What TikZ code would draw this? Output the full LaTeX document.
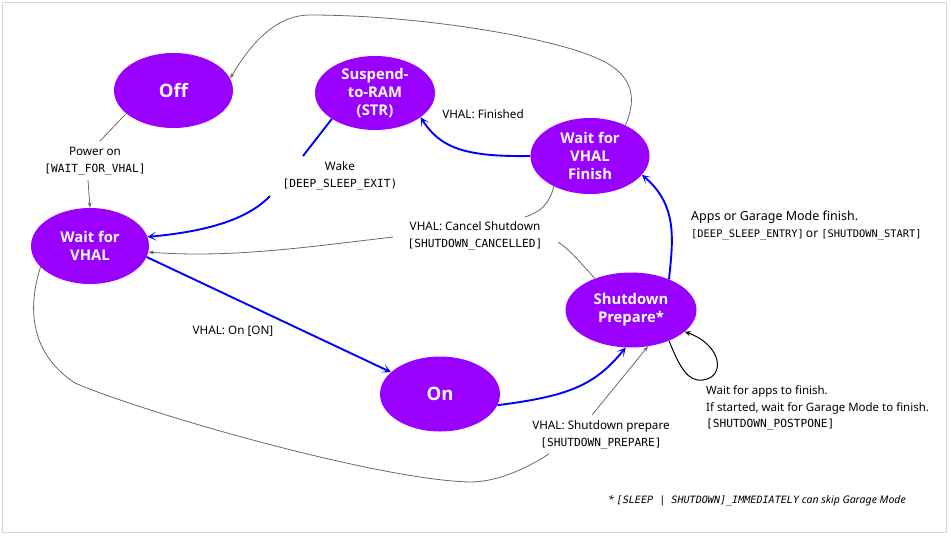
\documentclass[tikz,border=0pt]{standalone}
\usepackage{fontspec}
\setmainfont{Noto Sans}
\setmonofont{DejaVu Sans Mono}
\newfontfamily\statefont{Open Sans}[UprightFont=* Bold]
\usetikzlibrary{shapes.geometric,arrows.meta,calc}
\definecolor{vio}{RGB}{153,0,255}
\definecolor{blu}{RGB}{0,0,255}
\definecolor{gry}{RGB}{105,105,105}
\definecolor{frame}{RGB}{215,215,215}
\newcommand{\mc}[1]{{\ttfamily\fontsize{11.2}{17}\selectfont #1}}
\newcommand{\ms}[1]{{\ttfamily\fontsize{10.4}{17}\selectfont #1}}
\begin{document}
\begin{tikzpicture}[x=1pt,y=-1pt,
  state/.style={ellipse,fill=vio,text=white,font=\statefont\fontsize{14.8}{18}\selectfont,align=center,inner sep=0pt},
  bigstate/.style={state,font=\statefont\fontsize{18.5}{22}\selectfont},
  lbl/.style={font=\fontsize{11.7}{17}\selectfont,align=center,inner sep=1pt},
  lblL/.style={font=\fontsize{12.5}{17}\selectfont,align=left,inner sep=0pt,anchor=west},
  bedge/.style={draw=blu,line width=1.9pt,-{Stealth[length=9pt,width=9pt,inset=5.5pt]}},
  bline/.style={draw=blu,line width=1.9pt},
  gedge/.style={draw=gry,line width=0.8pt,-{Stealth[length=5.5pt,width=4pt]}},
  gline/.style={draw=gry,line width=0.8pt},
  kedge/.style={draw=black,line width=1pt,-{Stealth[length=6pt,width=5pt,inset=2pt]}}
]
\useasboundingbox (0,0) rectangle (951,538);
\draw[frame,line width=0.8pt] (2.5,2.5) rectangle (946.5,532.5);

% states
\node[bigstate,minimum width=119pt,minimum height=75pt] (off) at (173.5,90.5) {Off};
\node[state,minimum width=120pt,minimum height=74pt] (str) at (375,93) {Suspend-\\to-RAM\\(STR)};
\node[state,minimum width=118pt,minimum height=76pt] (wfv) at (90,246) {Wait for\\VHAL};
\node[state,minimum width=119pt,minimum height=76pt] (wvf) at (590,156) {Wait for\\VHAL\\Finish};
\node[bigstate,minimum width=120pt,minimum height=75pt] (on) at (440,394) {On};
\node[state,minimum width=131pt,minimum height=75pt] (sp) at (631,310) {Shutdown\\Prepare*};

% labels
\node[lbl] (pwr) at (95,161) {Power on\\\mc{[WAIT\_FOR\_VHAL]}};
\node[lbl] (wake) at (340,176) {Wake\\\mc{[DEEP\_SLEEP\_EXIT)}};
\node[lbl] (fin) at (483,114) {VHAL: Finished};
\node[lbl] (cancel) at (475,236) {VHAL: Cancel Shutdown\\\mc{[SHUTDOWN\_CANCELLED]}};
\node[lbl] (onl) at (233,331) {VHAL: On [ON]};
\node[lbl] (spl) at (601,434.5) {VHAL: Shutdown prepare\\\mc{[SHUTDOWN\_PREPARE]}};
\node[lblL] (apps) at (691,225) {Apps or Garage Mode finish.\\\ms{[DEEP\_SLEEP\_ENTRY]}\,{\fontsize{12}{17}\selectfont or} \ms{[SHUTDOWN\_START]}};
\node[lblL,font=\fontsize{11.5}{16.5}\selectfont] (loopl) at (706,408) {Wait for apps to finish.\\If started, wait for Garage Mode to finish.\\\mc{[SHUTDOWN\_POSTPONE]}};
\node[anchor=west,inner sep=0pt,font=\itshape\fontsize{10.5}{12}\selectfont] (foot) at (608,501) {* {\ttfamily\fontsize{10.1}{12}\selectfont[SLEEP | SHUTDOWN]\_IMMEDIATELY} can skip Garage Mode};

% coordinates where connectors meet labels
\coordinate (p1a) at (100,141);
\coordinate (p1b) at (88,180);
\coordinate (w1) at (303,156);
\coordinate (w2) at (270,196);
\coordinate (c0) at (393,237);
\coordinate (c1) at (525,217);
\coordinate (c2) at (558,242);
\coordinate (c3) at (549,454);
\coordinate (c4) at (592,415);

% Off -> Wait for VHAL
\draw[gline] (off.206) -- (p1a);
\draw[gedge] (p1b) -- (wfv.north);

% STR -> Wait for VHAL (wake)
\draw[bline] (str.211) -- (w1);
\draw[bedge] (w2) .. controls (245,222) and (200,232) .. (wfv.9);

% Wait for VHAL Finish -> STR
\draw[bedge] (wvf.180) .. controls (465,157) and (440,148) .. (str.-28);

% Wait for VHAL Finish -> Off
\draw[gedge] (wvf.41) .. controls (634,105) and (638,80) .. (605,62)
  .. controls (560,38) and (420,15) .. (310,15)
  .. controls (275,15) and (250,45) .. (off.12);

% cancel shutdown
\draw[gline] (wvf.220) .. controls (549,205) and (540,212) .. (c1);
\draw[gline] (sp.139) .. controls (580,262) and (570,250) .. (c2);
\draw[gedge] (c0) .. controls (300,248) and (230,258) .. (wfv.-6);

% Wait for VHAL -> On
\draw[bedge] (wfv.-11) -- (on.156);

% On -> Shutdown Prepare
\draw[bedge] (on.-11) .. controls (570,396) and (595,385) .. (sp.262);

% Wait for VHAL -> Shutdown Prepare
\draw[gline] (wfv.203) .. controls (30,300) and (25,350) .. (75,383)
  .. controls (150,415) and (380,480) .. (470,482)
  .. controls (500,482) and (530,466) .. (c3);
\draw[gedge] (c4) -- (sp.-65);

% Shutdown Prepare -> Wait for VHAL Finish
\draw[bedge] (sp.39) .. controls (673,240) and (678,205) .. (wvf.-20);

% self loop
\draw[kedge] (sp.-39) .. controls (680,368) and (688,382) .. (703,380)
  .. controls (726,377) and (722,345) .. (sp.-22);
\end{tikzpicture}
\end{document}
